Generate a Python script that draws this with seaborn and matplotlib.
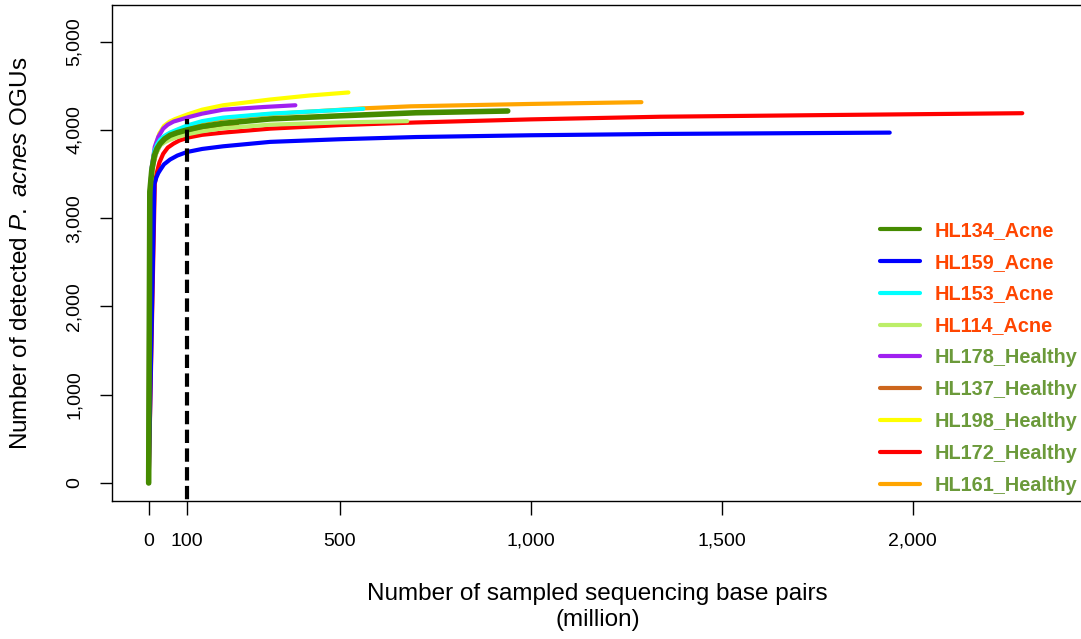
import numpy as np
import pandas as pd
import matplotlib
matplotlib.use("Agg")
import matplotlib.pyplot as plt
from matplotlib.lines import Line2D
import seaborn as sns

# samples in legend order
samples = ["HL134_Acne", "HL159_Acne", "HL153_Acne", "HL114_Acne",
           "HL178_Healthy", "HL137_Healthy", "HL198_Healthy",
           "HL172_Healthy", "HL161_Healthy"]
colors = ["#458B00", "#0000FF", "#00FFFF", "#BCEE68",
          "#A020F0", "#CD661D", "#FFFF00", "#FF0000", "#FFA500"]

# sampled base pairs (million) and detected OGUs
bp = {
    "HL134_Acne":    [0, 3, 8, 15, 22, 30, 42, 56, 75, 100, 140, 195, 318, 500, 700, 940],
    "HL159_Acne":    [0, 15, 20, 25, 30, 40, 56, 75, 100, 140, 195, 318, 500, 700, 1000, 1340, 1940],
    "HL153_Acne":    [0, 3, 8, 15, 22, 30, 42, 56, 75, 100, 140, 195, 318, 450, 562],
    "HL114_Acne":    [0, 4, 12, 20, 30, 42, 56, 75, 100, 140, 195, 318, 500, 677],
    "HL178_Healthy": [0, 2, 8, 16, 25, 38, 50, 65, 104, 140, 195, 300, 384],
    "HL137_Healthy": [0, 4, 12, 20, 30, 42, 56, 75, 100, 160, 231],
    "HL198_Healthy": [0, 2, 8, 20, 28, 40, 55, 70, 104, 140, 195, 318, 420, 523],
    "HL172_Healthy": [0, 16, 21, 28, 38, 50, 65, 80, 104, 140, 195, 318, 500, 700, 1000, 1340, 1800, 2287],
    "HL161_Healthy": [0, 3, 8, 15, 22, 30, 42, 56, 75, 100, 140, 195, 318, 562, 686, 1000, 1290],
}
ogus = {
    "HL134_Acne":    [0, 3300, 3540, 3710, 3790, 3845, 3900, 3940, 3970, 4000, 4040, 4075, 4125, 4160, 4195, 4215],
    "HL159_Acne":    [0, 3390, 3460, 3510, 3545, 3610, 3665, 3710, 3750, 3785, 3815, 3865, 3895, 3920, 3940, 3955, 3970],
    "HL153_Acne":    [0, 3300, 3570, 3760, 3835, 3890, 3935, 3970, 4005, 4050, 4100, 4140, 4185, 4215, 4240],
    "HL114_Acne":    [0, 3300, 3620, 3740, 3825, 3860, 3890, 3920, 3950, 3985, 4020, 4060, 4085, 4100],
    "HL178_Healthy": [0, 3200, 3580, 3810, 3920, 4015, 4060, 4095, 4145, 4185, 4230, 4260, 4280],
    "HL137_Healthy": [0, 3300, 3610, 3740, 3830, 3875, 3910, 3940, 3970, 4025, 4060],
    "HL198_Healthy": [0, 3200, 3560, 3845, 3960, 4045, 4095, 4125, 4180, 4230, 4280, 4345, 4390, 4425],
    "HL172_Healthy": [0, 3390, 3510, 3630, 3730, 3800, 3845, 3880, 3915, 3945, 3970, 4015, 4055, 4085, 4120, 4150, 4170, 4190],
    "HL161_Healthy": [0, 3300, 3570, 3750, 3825, 3880, 3925, 3960, 3995, 4040, 4090, 4130, 4180, 4245, 4268, 4295, 4315],
}

cutoff_x = 100
cutoff_top = 4120

xticks = [0, 100, 500, 1000, 1500, 2000]
yticks = [0, 1000, 2000, 3000, 4000, 5000]

rows = []
for s in samples:
    for x, y in zip(bp[s], ogus[s]):
        rows.append((s, x, y))
df = pd.DataFrame(rows, columns=["sample", "bp", "ogus"])

sns.set_style("white")
plt.rcParams["font.family"] = ["Liberation Sans", "DejaVu Sans"]
plt.rcParams["mathtext.fontset"] = "custom"
plt.rcParams["mathtext.rm"] = "Liberation Sans"
plt.rcParams["mathtext.it"] = "Liberation Sans:italic"
plt.rcParams["text.color"] = "black"
plt.rcParams["axes.labelcolor"] = "black"

fig = plt.figure(figsize=(10.81, 6.39), dpi=100)
ax = fig.add_axes([112 / 1081, 1 - 501 / 639, (1083 - 112) / 1081, 496 / 639])

# drawn in reverse legend order, so HL134 ends up on top
draw_order = samples[::-1]
pal = dict(zip(samples, colors))
sns.lineplot(data=df, x="bp", y="ogus", hue="sample", hue_order=draw_order,
             palette=pal, estimator=None, sort=False, lw=3, legend=False, ax=ax)
for line in ax.get_lines():
    line.set_solid_capstyle("round")
    line.set_solid_joinstyle("round")
ax.get_lines()[-1].set_linewidth(4)

ax.vlines(cutoff_x, -400, cutoff_top, colors="black", lw=3,
          linestyles=(0, (3.2, 1.3)), zorder=5)

ax.set_xlim(-96, 2446)
ax.set_ylim(-204, 5416)
ax.set_xticks(xticks)
ax.set_xticklabels([f"{v:,}" for v in xticks])
ax.set_yticks(yticks)
ax.set_yticklabels([f"{v:,}" for v in yticks], rotation=90, va="center")
ax.tick_params(axis="x", direction="out", length=10, width=1, pad=13,
               labelsize=14, bottom=True, colors="black")
ax.tick_params(axis="y", direction="out", length=9, width=1, pad=12,
               labelsize=14, left=True, colors="black")
for sp in ax.spines.values():
    sp.set_color("black")
    sp.set_linewidth(1)

ax.set_xlabel("Number of sampled sequencing base pairs\n(million)",
              fontsize=17.5, labelpad=24)
ax.set_ylabel(r"Number of detected $\mathit{P.\ acnes}$ OGUs",
              fontsize=17.5, labelpad=24)

handles = [Line2D([], [], color=c, lw=3, solid_capstyle="round") for c in colors]
label_colors = ["#FF4500" if s.endswith("Acne") else "#6B9A3A" for s in samples]
ax.legend(handles, samples, loc="lower left",
          bbox_to_anchor=(880 / 1081, 144 / 639), bbox_transform=fig.transFigure,
          frameon=False, prop={"weight": "bold", "size": 14.3},
          labelcolor=label_colors, handlelength=2.0, handletextpad=0.75,
          labelspacing=0.65, borderpad=0, borderaxespad=0)

fig.savefig("out.png", dpi=100)
